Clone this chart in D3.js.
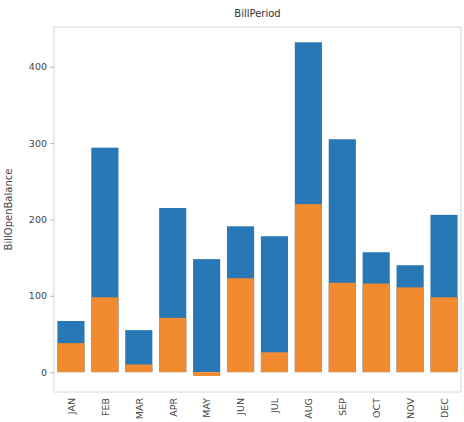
<!DOCTYPE html>
<html><head><meta charset="utf-8">
<script src="https://cdn.jsdelivr.net/npm/d3@7"></script>
<style>body{margin:0;background:#fff}svg{display:block}</style>
</head><body>
<svg id="c" width="464" height="422"></svg>
<script>
const months = ["JAN","FEB","MAR","APR","MAY","JUN","JUL","AUG","SEP","OCT","NOV","DEC"];
const totalBalance = [67, 294, 55, 215, 148, 191, 178, 432, 305, 157, 140, 206];
const otherBalance = [38, 98, 10, 71, -5, 123, 26, 220, 117, 116, 111, 98];
const yTicks = [0, 100, 200, 300, 400];
const title = "BillPeriod";
const yLabel = "BillOpenBalance";

const svg = d3.select("#c");
const m = {l:54, r:461, t:27, b:392};
const x = d3.scaleLinear().domain([-0.5, months.length-0.5]).range([m.l, m.r]);
const y = d3.scaleLinear().domain([-26, 452]).range([m.b, m.t]);
const bw = x(0.8) - x(0);

svg.append("rect").attr("x",m.l).attr("y",m.t).attr("width",m.r-m.l).attr("height",m.b-m.t)
  .attr("fill","#fff").attr("stroke","#d8d8d8").attr("stroke-width",1);

svg.append("g").selectAll("rect").data(totalBalance).join("rect")
  .attr("x",(d,i)=>x(i)-bw/2).attr("width",bw)
  .attr("y",d=>y(Math.max(0,d))).attr("height",d=>Math.abs(y(0)-y(d)))
  .attr("fill","#2878b5");
svg.append("g").selectAll("rect").data(otherBalance).join("rect")
  .attr("x",(d,i)=>x(i)-bw/2).attr("width",bw)
  .attr("y",d=>y(Math.max(0,d))).attr("height",d=>Math.abs(y(0)-y(d)))
  .attr("fill","#f28a30");

const ya = svg.append("g").attr("transform",`translate(${m.l},0)`)
  .call(d3.axisLeft(y).tickValues(yTicks).tickSize(4).tickPadding(3));
ya.select(".domain").remove();
ya.selectAll("line").attr("stroke","#bbb");
ya.selectAll("text").attr("fill","#444").style("font-family","DejaVu Sans").style("font-size","9.5px");

const xa = svg.append("g").attr("transform",`translate(0,${m.b})`)
  .call(d3.axisBottom(x).tickValues(d3.range(months.length)).tickFormat(i=>months[i]).tickSize(0).tickPadding(6));
xa.select(".domain").remove();
xa.selectAll("text").attr("fill","#444").style("font-family","DejaVu Sans").style("font-size","9.5px")
  .attr("transform","rotate(-90)").attr("text-anchor","end").attr("dx","-6").attr("dy","0.35em").attr("y",0).attr("x",0);

svg.append("text").attr("x",(m.l+m.r)/2).attr("y",17).attr("text-anchor","middle")
  .attr("fill","#333").style("font-family","DejaVu Sans").style("font-size","10px").text(title);
svg.append("text").attr("transform",`translate(12,${(m.t+m.b)/2}) rotate(-90)`).attr("text-anchor","middle")
  .attr("fill","#444").style("font-family","DejaVu Sans").style("font-size","10px").text(yLabel);
</script>
</body></html>
